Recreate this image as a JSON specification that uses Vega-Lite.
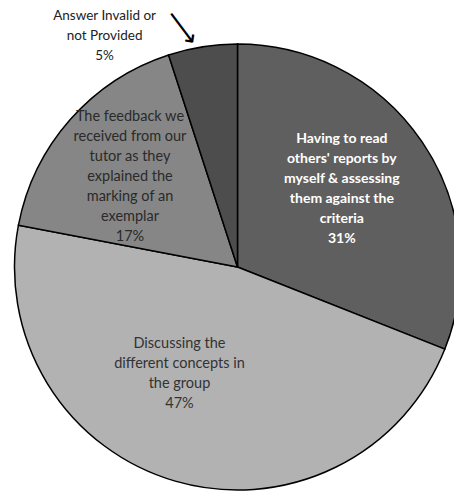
{
  "$schema": "https://vega.github.io/schema/vega-lite/v6.json",
  "width": 433,
  "height": 448,
  "padding": {"left": 21, "top": 43, "right": 0, "bottom": 0},
  "autosize": {"type": "none"},
  "background": "white",
  "view": {"stroke": null},
  "data": {
    "values": [
      {"id": 1, "category": "Having to read others' reports by myself & assessing them against the criteria", "value": 31, "label": "Having to read\nothers' reports by\nmyself & assessing\nthem against the\ncriteria\n31%"},
      {"id": 2, "category": "Discussing the different concepts in the group", "value": 47, "label": "Discussing the\ndifferent concepts in\nthe group\n47%"},
      {"id": 3, "category": "The feedback we received from our tutor as they explained the marking of an exemplar", "value": 17, "label": "The feedback we\nreceived from our\ntutor as they\nexplained the\nmarking of an\nexemplar\n17%"},
      {"id": 4, "category": "Answer Invalid or not Provided", "value": 5, "label": "Answer  Invalid or\nnot Provided\n5%"}
    ]
  },
  "encoding": {
    "theta": {"field": "value", "type": "quantitative", "stack": true},
    "order": {"field": "id", "type": "quantitative"}
  },
  "layer": [
    {
      "mark": {"type": "arc", "outerRadius": 223, "stroke": "black", "strokeWidth": 1.5},
      "encoding": {
        "color": {
          "field": "category", "type": "nominal", "legend": null,
          "scale": {
            "domain": [
              "Having to read others' reports by myself & assessing them against the criteria",
              "Discussing the different concepts in the group",
              "The feedback we received from our tutor as they explained the marking of an exemplar",
              "Answer Invalid or not Provided"
            ],
            "range": ["#5f5f5f", "#b2b2b2", "#868686", "#4d4d4d"]
          }
        }
      }
    },
    {
      "mark": {"type": "text", "radius": 131, "dx": -4, "dy": -54, "font": "Lato", "fontSize": 14, "fontWeight": "bold", "lineHeight": 20, "fill": "white", "lineBreak": "\n", "align": "center", "baseline": "middle"},
      "encoding": {
        "text": {"condition": {"test": "datum.id == 1", "field": "label"}, "value": ""}
      }
    },
    {
      "mark": {"type": "text", "radius": 122, "dx": -24, "dy": -40, "font": "Lato", "fontSize": 14.5, "lineHeight": 20, "fill": "#333333", "lineBreak": "\n", "align": "center", "baseline": "middle"},
      "encoding": {
        "text": {"condition": {"test": "datum.id == 2", "field": "label"}, "value": ""}
      }
    },
    {
      "mark": {"type": "text", "radius": 138, "dx": -4, "dy": -59, "font": "Lato", "fontSize": 14.5, "lineHeight": 20, "fill": "#2a2a2a", "lineBreak": "\n", "align": "center", "baseline": "middle"},
      "encoding": {
        "text": {"condition": {"test": "datum.id == 3", "field": "label"}, "value": ""}
      }
    },
    {
      "mark": {"type": "text", "radius": 236, "dx": -96, "dy": -18, "font": "Lato", "fontSize": 13.5, "lineHeight": 20, "fill": "#222222", "lineBreak": "\n", "align": "center", "baseline": "middle"},
      "encoding": {
        "text": {"condition": {"test": "datum.id == 4", "field": "label"}, "value": ""}
      }
    },
    {
      "mark": {"type": "text", "radius": 243, "dx": -10, "dy": 15, "font": "DejaVu Sans", "fontSize": 27, "angle": 53, "fill": "black", "align": "center", "baseline": "middle"},
      "encoding": {
        "text": {"condition": {"test": "datum.id == 4", "value": "⟶"}, "value": ""}
      }
    }
  ]
}
